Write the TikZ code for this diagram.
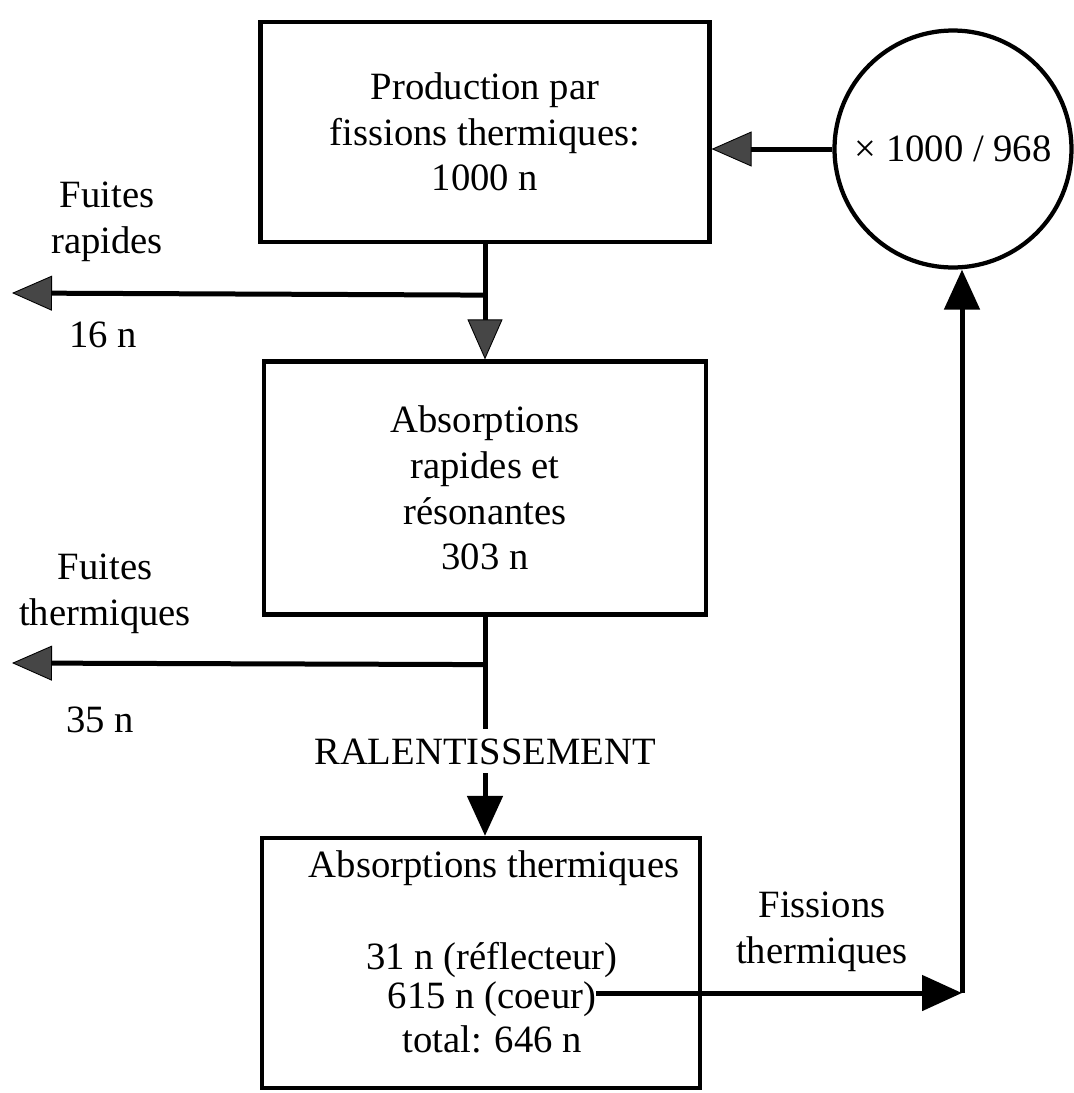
\documentclass[tikz,border=0pt]{standalone}
\usepackage{fontspec}
\setmainfont{Liberation Serif}
\usetikzlibrary{arrows.meta,positioning,calc}
\definecolor{tipgray}{RGB}{70,70,70}

\begin{document}
\begin{tikzpicture}[
  x=0.02cm, y=-0.02cm,
  txt/.style={
    font=\fontsize{22}{26}\selectfont,
    align=center,
    inner sep=0pt
  },
  stagebox/.style={
    draw,
    line width=0.085cm,
    align=center,
    inner sep=0pt,
    font=\fontsize{22}{26}\selectfont
  },
  flow/.style={line width=0.1cm},
  grayflow/.style={flow,-{Triangle[length=0.8cm,width=0.7cm,line width=0.5pt,fill=tipgray]}},
  blackflow/.style={flow,-{Triangle[length=0.8cm,width=0.7cm]}}
]
\useasboundingbox (0,0) rectangle (1073,1093);

\node[stagebox,minimum width=8.98cm,minimum height=4.4cm] (prod) at (485,132)
  {Production par\\fissions thermiques:\\1000 n};
\node[stagebox,minimum width=8.84cm,minimum height=5.06cm] (rapid) at (485,488)
  {Absorptions\\rapides et\\résonantes\\303 n};
\node[stagebox,minimum width=8.76cm,minimum height=5cm] (therm) at (481,963) {};
\node[stagebox,circle,minimum size=4.74cm] (circ) at (953,149) {× 1000 / 968};

\node[txt] (therm_t) at ($(therm.north)+(13,32)$) {Absorptions thermiques};
\node[txt] (refl) at (492,960) {31 n (réflecteur)};
\node[txt] (coeur) at (492,999) {615 n (coeur)};
\node[txt] (total) at (492,1039) {total: 646 n};

\coordinate (j1) at ($(prod.south)+(0,51)$);
\coordinate (leak1) at (12,293);
\coordinate (j2) at ($(rapid.south)+(0,48)$);
\coordinate (leak2) at (12,663);
\coordinate (corner) at ($(circ.south |- coeur.east)+(9,-6)$);

\node[txt] (fr) at (107,222) {Fuites\\rapides};
\node[txt] (fr_n) at (103,335) {16 n};
\node[txt] (ft) at (105,594) {Fuites\\thermiques};
\node[txt] (ft_n) at (100,720) {35 n};
\node[txt] (ralent) at (485,752) {RALENTISSEMENT};
\node[txt] (fiss) at (822,932) {Fissions\\thermiques};

\draw[grayflow] (prod.south) -- (rapid.north);
\draw[grayflow] (j1) -- (leak1);
\draw[flow] (rapid.south) -- ($(ralent.north)+(0,-10)$);
\draw[grayflow] (j2) -- (leak2);
\draw[blackflow] ($(ralent.south)+(0,8)$) -- (ralent.south |- therm.north);
\draw[blackflow] (coeur.east |- corner) -- (corner);
\draw[blackflow] (corner) -- (corner |- circ.south);
\draw[grayflow] (circ.west) -- (circ.west -| prod.east);
\end{tikzpicture}
\end{document}
